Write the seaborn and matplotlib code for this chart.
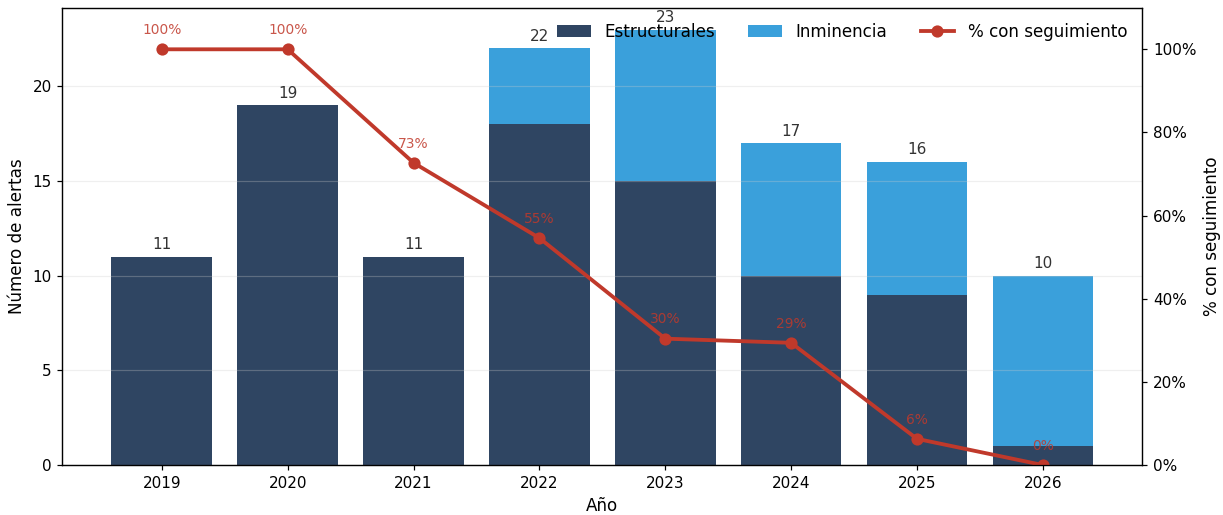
import matplotlib
matplotlib.use("Agg")
import matplotlib.pyplot as plt
import numpy as np
import pandas as pd
import seaborn as sns
from matplotlib.ticker import PercentFormatter

# --- DATOS ---
years = ["2019", "2020", "2021", "2022", "2023", "2024", "2025", "2026"]
estructurales = [11, 19, 11, 18, 15, 10, 9, 1]
inminencia = [0, 0, 0, 4, 8, 7, 7, 9]
pct_seguimiento = [100.0, 100.0, 72.7, 54.6, 30.4, 29.4, 6.3, 0.0]

COLOR_EST = "#2f4562"
COLOR_INM = "#3aa0db"
COLOR_LINE = "#c0392b"

df = pd.DataFrame({
    "anio": years,
    "estructurales": estructurales,
    "inminencia": inminencia,
    "pct": pct_seguimiento,
})
df["total"] = df["estructurales"] + df["inminencia"]

fig, ax = plt.subplots(figsize=(1223 / 110, 515 / 110), dpi=110)
fig.subplots_adjust(left=0.051, right=0.934, top=0.985, bottom=0.097)

# Barras apiladas: total (inminencia) debajo, estructurales encima
sns.barplot(data=df, x="anio", y="total", color=COLOR_INM, ax=ax,
            width=0.8, saturation=1, label="Inminencia", linewidth=0)
sns.barplot(data=df, x="anio", y="estructurales", color=COLOR_EST, ax=ax,
            width=0.8, saturation=1, label="Estructurales", linewidth=0)
if ax.get_legend() is not None:
    ax.get_legend().remove()

ax.bar_label(ax.containers[0], padding=3, fontsize=10, color="#333333")

ax.set_ylim(0, df["total"].max() * 1.05)
ax.set_xlabel("Año", fontsize=11)
ax.set_ylabel("Número de alertas", fontsize=11)
ax.yaxis.grid(True, color="#cccccc", alpha=0.3, linewidth=0.8)

# Línea de seguimiento en eje secundario
ax2 = ax.twinx()
xs = np.arange(len(df))
sns.lineplot(x=xs, y=df["pct"], ax=ax2, color=COLOR_LINE, linewidth=2.5,
             marker="o", markersize=8, markeredgewidth=0,
             label="% con seguimiento", legend=False)
for x, p in zip(xs, df["pct"]):
    ax2.annotate(f"{p:.0f}%", (x, p), xytext=(0, 8), textcoords="offset points",
                 ha="center", va="bottom", fontsize=9, color=COLOR_LINE, alpha=0.85)

ax2.set_ylim(0, 110)
ax2.set_yticks([0, 20, 40, 60, 80, 100])
ax2.yaxis.set_major_formatter(PercentFormatter(decimals=0))
ax2.set_ylabel("% con seguimiento", fontsize=11)
ax2.tick_params(labelsize=10)
ax.tick_params(labelsize=10)

# Leyenda combinada
h1, l1 = ax.get_legend_handles_labels()
h2, l2 = ax2.get_legend_handles_labels()
order = [l1.index("Estructurales"), l1.index("Inminencia")]
handles = [h1[i] for i in order] + h2
labels = [l1[i] for i in order] + l2
ax2.legend(handles, labels, loc="upper right", ncol=3, frameon=False, fontsize=11)

fig.savefig("out.png", dpi=110)
